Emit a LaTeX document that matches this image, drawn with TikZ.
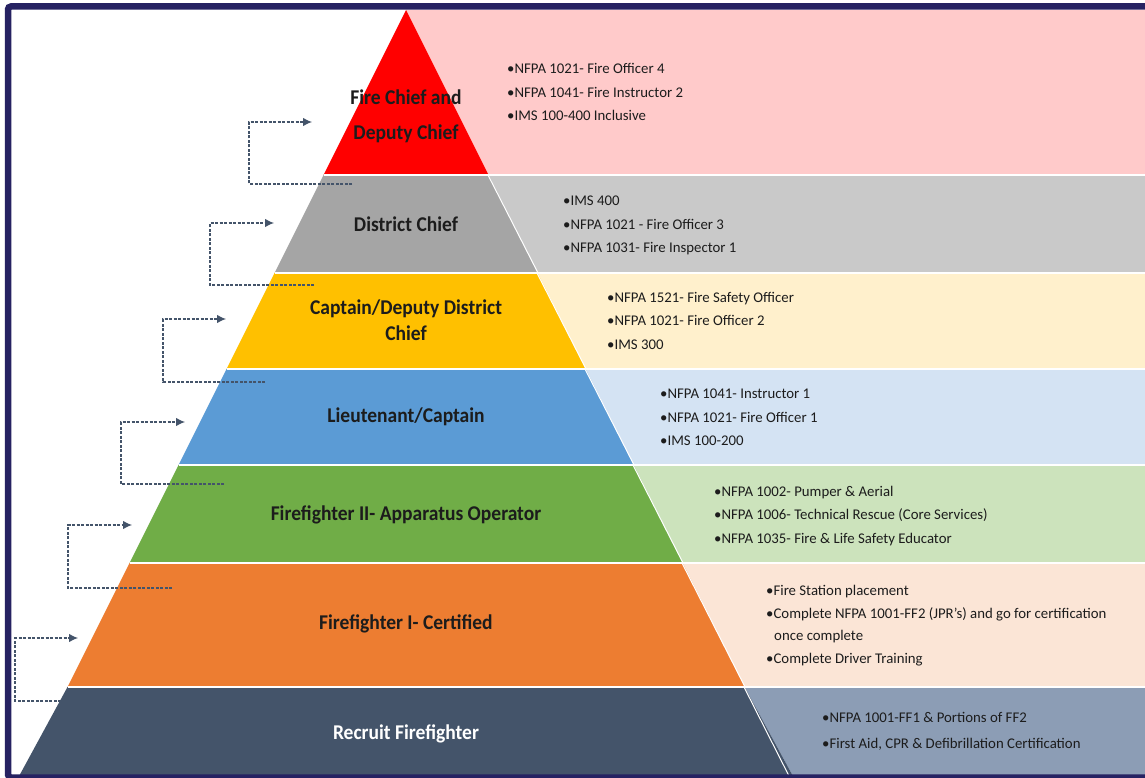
\documentclass[tikz,border=0pt]{standalone}
\usepackage{fontspec}
\setmainfont{Carlito}
\newfontfamily\lblfont[FakeStretch=0.93]{Carlito}
\usetikzlibrary{arrows.meta}
\definecolor{framec}{HTML}{262262}
\definecolor{c1}{HTML}{FF0000}\definecolor{l1}{HTML}{FFCACA}
\definecolor{c2}{HTML}{A5A5A5}\definecolor{l2}{HTML}{C9C9C9}
\definecolor{c3}{HTML}{FFC000}\definecolor{l3}{HTML}{FFF0CC}
\definecolor{c4}{HTML}{5B9BD5}\definecolor{l4}{HTML}{D4E3F3}
\definecolor{c5}{HTML}{70AD47}\definecolor{l5}{HTML}{CCE3BC}
\definecolor{c6}{HTML}{ED7D31}\definecolor{l6}{HTML}{FBE5D6}
\definecolor{c7}{HTML}{44546A}\definecolor{l7}{HTML}{8C9DB5}
\definecolor{arrc}{HTML}{44546A}
\definecolor{txt}{HTML}{1C1C1C}
\tikzset{
  lbl/.style={font=\lblfont\fontsize{21}{25}\selectfont\bfseries, text=txt, align=center, inner sep=0pt},
  info/.style={font=\fontsize{14.8}{23.5}\selectfont, text=txt, align=left, anchor=west, inner sep=0pt},
  sep/.style={white, line width=2pt},
  dsep/.style={white, line width=1pt},
  conn/.style={arrc, line width=1.1pt, dash pattern=on 3pt off 1.5pt, -{Latex[length=9pt,width=8.5pt]}},
  frameline/.style={framec, line width=6.5pt, rounded corners=3pt}
}
\begin{document}
\begin{tikzpicture}[x=1pt,y=-1pt]
\useasboundingbox (0,0) rectangle (1145,778);
\clip (0,0) rectangle (1145,778);
\fill[white] (0,0) rectangle (1145,778);
% right light regions
\fill[l1] (406,10) -- (1145,10) -- (1145,175) -- (488.5,175) -- cycle;
\fill[l2] (488.5,175) -- (1145,175) -- (1145,273) -- (537.5,273) -- cycle;
\fill[l3] (537.5,273) -- (1145,273) -- (1145,369) -- (585.5,369) -- cycle;
\fill[l4] (585.5,369) -- (1145,369) -- (1145,465) -- (633.5,465) -- cycle;
\fill[l5] (633.5,465) -- (1145,465) -- (1145,563) -- (682.5,563) -- cycle;
\fill[l6] (682.5,563) -- (1145,563) -- (1145,687) -- (744.5,687) -- cycle;
\fill[l7] (744.5,687) -- (1145,687) -- (1145,790) -- (800.5,790) -- cycle;
% pyramid bands
\fill[c1] (406,10) -- (488.5,175) -- (323.5,175) -- cycle;
\fill[c2] (323.5,175) -- (488.5,175) -- (537.5,273) -- (274.5,273) -- cycle;
\fill[c3] (274.5,273) -- (537.5,273) -- (585.5,369) -- (226.5,369) -- cycle;
\fill[c4] (226.5,369) -- (585.5,369) -- (633.5,465) -- (178.5,465) -- cycle;
\fill[c5] (178.5,465) -- (633.5,465) -- (682.5,563) -- (129.5,563) -- cycle;
\fill[c6] (129.5,563) -- (682.5,563) -- (744.5,687) -- (67.5,687) -- cycle;
\fill[c7] (67.5,687) -- (744.5,687) -- (800.5,790) -- (11.5,790) -- cycle;
% separators
\draw[sep] (323.5,175) -- (1145,175);
\draw[sep] (274.5,273) -- (1145,273);
\draw[sep] (226.5,369) -- (1145,369);
\draw[sep] (178.5,465) -- (1145,465);
\draw[sep] (129.5,563) -- (1145,563);
\draw[sep] (67.5,687) -- (1145,687);
\draw[dsep] (488.5,176) -- (537.5,272);
\draw[dsep] (537.5,274) -- (585.5,368);
\draw[dsep] (585.5,370) -- (633.5,464);
\draw[dsep] (633.5,466) -- (682.5,562);
\draw[dsep] (682.5,564) -- (744.5,686);
\draw[dsep] (744.5,688) -- (790,778);
% frame
\draw[frameline] (8,6.5) rectangle (1170,777.5);
% pyramid labels
\node[lbl] (n1) at (406,116) {Fire Chief and\\[10pt]Deputy Chief};
\node[lbl] (n2) at (406,224) {District Chief};
\node[lbl] (n3) at (406,320) {Captain/Deputy District\\[1pt]Chief};
\node[lbl] (n4) at (406,417) {Lieutenant/Captain};
\node[lbl] (n5) at (406,515) {Firefighter II- Apparatus Operator};
\node[lbl] (n6) at (406,624) {Firefighter I- Certified};
\node[lbl, text=white] (n7) at (406,734) {Recruit Firefighter};
% requirement texts
\node[info] (r1) at (507,92) {•NFPA 1021- Fire Officer 4\\•NFPA 1041- Fire Instructor 2\\•IMS 100-400 Inclusive};
\node[info] (r2) at (563,225.5) {•IMS 400\\•NFPA 1021 - Fire Officer 3\\•NFPA 1031- Fire Inspector 1};
\node[info] (r3) at (607,320.5) {•NFPA 1521- Fire Safety Officer\\•NFPA 1021- Fire Officer 2\\•IMS 300};
\node[info] (r4) at (660,417.5) {•NFPA 1041- Instructor 1\\•NFPA 1021- Fire Officer 1\\•IMS 100-200};
\node[info] (r5) at (714,516) {•NFPA 1002- Pumper \& Aerial\\•NFPA 1006- Technical Rescue (Core Services)\\•NFPA 1035- Fire \& Life Safety Educator};
\node[info] (r6) at (766,625.5) {•Fire Station placement\\•Complete NFPA 1001-FF2 (JPR's) and go for certification\\[-2pt]\hspace*{8pt}once complete\\•Complete Driver Training};
\node[info] (r7) at (822,731.5) {•NFPA 1001-FF1 \& Portions of FF2\\[2.5pt]•First Aid, CPR \& Defibrillation Certification};
% connectors
\coordinate (s1) at (352,184); \coordinate (k1) at (249,184); \coordinate (t1) at (312,122);
\coordinate (s2) at (314,285); \coordinate (k2) at (210,285); \coordinate (t2) at (274,223);
\coordinate (s3) at (265,382); \coordinate (k3) at (163,382); \coordinate (t3) at (226,319);
\coordinate (s4) at (224,484); \coordinate (k4) at (121,484); \coordinate (t4) at (185,422);
\coordinate (s5) at (172,588); \coordinate (k5) at (68,588);  \coordinate (t5) at (132,525);
\coordinate (s6) at (61,701);  \coordinate (k6) at (15,701);  \coordinate (t6) at (78,638);
\foreach \i in {1,...,6} {\draw[conn] (s\i) -- (k\i) |- (t\i);}
\end{tikzpicture}
\end{document}
